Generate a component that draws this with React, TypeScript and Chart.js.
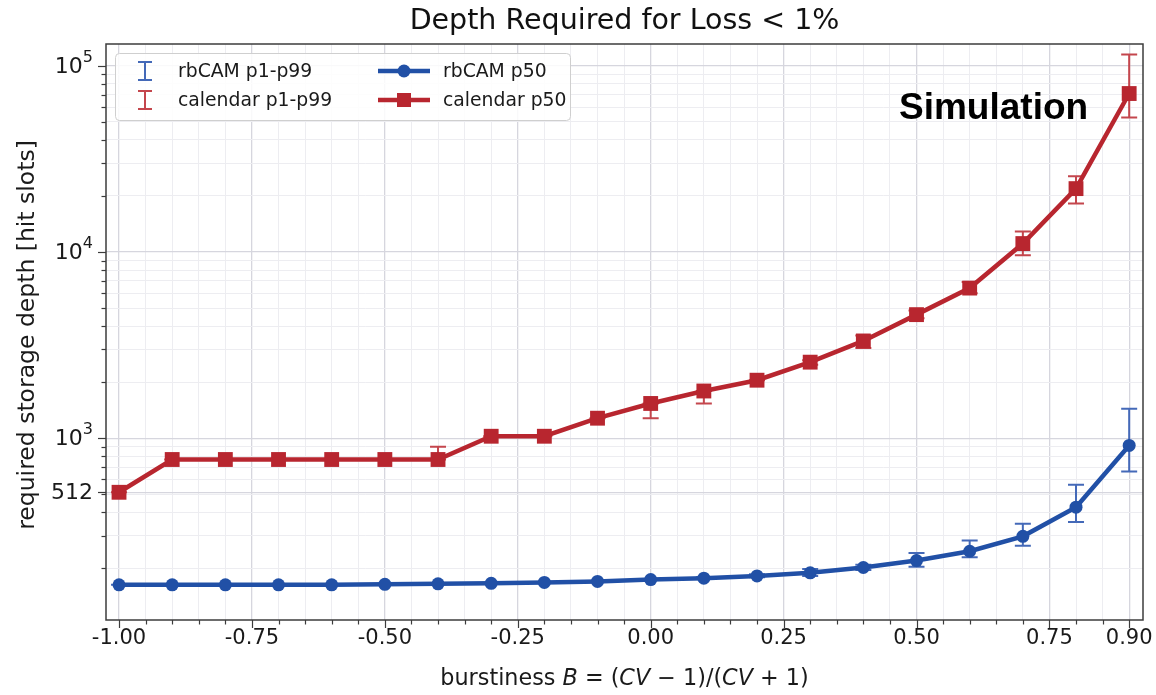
import React, { useEffect, useRef } from "react";
import { Chart, registerables } from "chart.js";

Chart.register(...registerables);

// ---------------- data ----------------
const burstiness = [-1.0, -0.9, -0.8, -0.7, -0.6, -0.5, -0.4, -0.3, -0.2, -0.1, 0.0, 0.1, 0.2, 0.3, 0.4, 0.5, 0.6, 0.7, 0.8, 0.9];

const rbcamP50 = [163, 163, 163, 163, 163, 164, 165, 166, 168, 170, 174, 177, 182, 189, 202, 220, 247, 297, 426, 914];
const rbcamP1 = [163, 163, 163, 163, 163, 164, 165, 166, 168, 170, 173, 176, 179, 182, 196, 204, 229, 264, 354, 662];
const rbcamP99 = [163, 163, 163, 163, 163, 164, 165, 166, 168, 170, 175, 179, 186, 198, 209, 242, 282, 347, 562, 1439];

const calendarP50 = [512, 768, 768, 768, 768, 768, 768, 1024, 1024, 1280, 1536, 1792, 2048, 2560, 3328, 4608, 6400, 11100, 21900, 71000];
const calendarP1 = [512, 768, 768, 768, 768, 768, 768, 1024, 1024, 1280, 1280, 1536, 2048, 2480, 3050, 4400, 6000, 9600, 18200, 52800];
const calendarP99 = [512, 768, 768, 768, 768, 768, 900, 1024, 1024, 1280, 1536, 1792, 2048, 2620, 3560, 4850, 6900, 12900, 25500, 115000];

const xMajorTicks = [-1.0, -0.75, -0.5, -0.25, 0.0, 0.25, 0.5, 0.75, 0.9];
const xTickLabels = ["-1.00", "-0.75", "-0.50", "-0.25", "0.00", "0.25", "0.50", "0.75", "0.90"];
const yMajorTicks = [512, 1000, 10000, 100000];
const yTickLabels = [["512", ""], ["10", "3"], ["10", "4"], ["10", "5"]];
const yMinorTicks = [200, 300, 400, 500, 600, 700, 800, 900, 2000, 3000, 4000, 5000, 6000, 7000, 8000, 9000, 20000, 30000, 40000, 50000, 60000, 70000, 80000, 90000];

const TITLE = "Depth Required for Loss < 1%";
const Y_LABEL = "required storage depth [hit slots]";
const ANNOTATION = "Simulation";

// ---------------- style ----------------
const BLUE = "#2150a6";
const BLUE_ERR = "#4469b8";
const RED = "#b8262f";
const RED_ERR = "#c4464d";
const FONT = "'DejaVu Sans'";
const MAJOR_GRID = "#d6d6de";
const MINOR_GRID = "#ededf1";
const AXIS = "#3c3c3c";

const W = 1156;
const H = 695;

function isMajorX(v: number) {
  return xMajorTicks.some((m) => Math.abs(m - v) < 1e-6);
}

const errorBarPlugin = {
  id: "errorBars",
  beforeDatasetsDraw(chart: any) {
    const { ctx, scales } = chart;
    const xs = scales.x;
    const ys = scales.y;
    const series = [
      { lo: rbcamP1, hi: rbcamP99, color: BLUE_ERR },
      { lo: calendarP1, hi: calendarP99, color: RED_ERR },
    ];
    ctx.save();
    for (const s of series) {
      ctx.strokeStyle = s.color;
      ctx.lineWidth = 2;
      for (let i = 0; i < burstiness.length; i++) {
        const x = xs.getPixelForValue(burstiness[i]);
        const y1 = ys.getPixelForValue(s.lo[i]);
        const y2 = ys.getPixelForValue(s.hi[i]);
        ctx.beginPath();
        ctx.moveTo(x, y1);
        ctx.lineTo(x, y2);
        ctx.moveTo(x - 8, y1);
        ctx.lineTo(x + 8, y1);
        ctx.moveTo(x - 8, y2);
        ctx.lineTo(x + 8, y2);
        ctx.stroke();
      }
    }
    ctx.restore();
  },
};

const framePlugin = {
  id: "frame",
  afterDatasetsDraw(chart: any) {
    const { ctx, chartArea: a } = chart;
    ctx.save();
    ctx.strokeStyle = AXIS;
    ctx.lineWidth = 1.5;
    ctx.strokeRect(a.left, a.top, a.right - a.left, a.bottom - a.top);
    ctx.restore();
  },
};

const decorPlugin = {
  id: "decor",
  afterDraw(chart: any) {
    const { ctx, chartArea: a, scales } = chart;
    const xs = scales.x;
    const ys = scales.y;
    ctx.save();
    ctx.strokeStyle = AXIS;
    ctx.lineWidth = 1.2;
    // x ticks
    for (const t of xs.ticks) {
      const x = Math.round(xs.getPixelForValue(t.value)) + 0.5;
      const len = isMajorX(t.value) ? 8 : 4.5;
      ctx.beginPath();
      ctx.moveTo(x, a.bottom);
      ctx.lineTo(x, a.bottom + len);
      ctx.stroke();
    }
    // y ticks
    for (const t of ys.ticks) {
      const y = Math.round(ys.getPixelForValue(t.value)) + 0.5;
      const len = yMajorTicks.includes(t.value) ? 8 : 4.5;
      ctx.beginPath();
      ctx.moveTo(a.left, y);
      ctx.lineTo(a.left - len, y);
      ctx.stroke();
    }
    // x tick labels
    ctx.fillStyle = "#1a1a1a";
    ctx.font = `21px ${FONT}`;
    ctx.textAlign = "center";
    ctx.textBaseline = "middle";
    xMajorTicks.forEach((v, i) => {
      ctx.fillText(xTickLabels[i], xs.getPixelForValue(v), a.bottom + 19);
    });
    // y tick labels (with superscripts)
    yMajorTicks.forEach((v, i) => {
      const y = ys.getPixelForValue(v);
      const [base, sup] = yTickLabels[i];
      ctx.font = `22px ${FONT}`;
      const bw = ctx.measureText(base).width;
      ctx.font = `16px ${FONT}`;
      const sw = sup ? ctx.measureText(sup).width : 0;
      const right = a.left - 13;
      ctx.textAlign = "left";
      ctx.textBaseline = "middle";
      ctx.font = `22px ${FONT}`;
      ctx.fillText(base, right - sw - bw, y + 1);
      if (sup) {
        ctx.font = `16px ${FONT}`;
        ctx.fillText(sup, right - sw, y - 8);
      }
    });
    // y axis label
    ctx.save();
    ctx.translate(28, (a.top + a.bottom) / 2 + 3);
    ctx.rotate(-Math.PI / 2);
    ctx.font = `23.5px ${FONT}`;
    ctx.textAlign = "center";
    ctx.textBaseline = "middle";
    ctx.fillText(Y_LABEL, 0, 0);
    ctx.restore();
    // x axis label with math italics
    const parts: [string, boolean][] = [
      ["burstiness ", false],
      ["B", true],
      [" = (", false],
      ["CV", true],
      [" \u2212 1)/(", false],
      ["CV", true],
      [" + 1)", false],
    ];
    const xlFont = 22.3;
    let total = 0;
    for (const [s, it] of parts) {
      ctx.font = `${it ? "italic " : ""}${xlFont}px ${FONT}`;
      total += ctx.measureText(s).width;
    }
    let cx = (a.left + a.right) / 2 - total / 2;
    ctx.textAlign = "left";
    ctx.textBaseline = "middle";
    for (const [s, it] of parts) {
      ctx.font = `${it ? "italic " : ""}${xlFont}px ${FONT}`;
      ctx.fillText(s, cx, 679);
      cx += ctx.measureText(s).width;
    }
    // title
    ctx.font = `28.5px ${FONT}`;
    ctx.textAlign = "center";
    ctx.textBaseline = "middle";
    ctx.fillStyle = "#111";
    ctx.fillText(TITLE, (a.left + a.right) / 2, 22);
    // annotation
    ctx.font = `bold 37px 'Liberation Sans'`;
    ctx.textAlign = "left";
    ctx.fillStyle = "#000";
    ctx.fillText(ANNOTATION, 899, 109);

    // legend
    const lx = 115.5, ly = 53.5, lw = 455, lh = 67;
    ctx.beginPath();
    (ctx as any).roundRect(lx, ly, lw, lh, 4);
    ctx.fillStyle = "rgba(255,255,255,0.85)";
    ctx.fill();
    ctx.strokeStyle = "#cfcfcf";
    ctx.lineWidth = 1;
    ctx.stroke();
    const rows = [71, 100];
    const ds = chart.data.datasets;
    ctx.font = `18.8px ${FONT}`;
    ctx.textBaseline = "middle";
    ctx.textAlign = "left";
    const errEntries = [
      { label: "rbCAM p1-p99", color: BLUE_ERR },
      { label: "calendar p1-p99", color: RED_ERR },
    ];
    errEntries.forEach((e, i) => {
      const y = rows[i];
      const x = 145;
      ctx.strokeStyle = e.color;
      ctx.lineWidth = 2;
      ctx.beginPath();
      ctx.moveTo(x, y - 9);
      ctx.lineTo(x, y + 9);
      ctx.moveTo(x - 7, y - 9);
      ctx.lineTo(x + 7, y - 9);
      ctx.moveTo(x - 7, y + 9);
      ctx.lineTo(x + 7, y + 9);
      ctx.stroke();
      ctx.fillStyle = "#1a1a1a";
      ctx.fillText(e.label, 178, y + 1);
    });
    ds.forEach((d: any, i: number) => {
      const y = rows[i];
      ctx.strokeStyle = d.borderColor;
      ctx.lineWidth = 4.5;
      ctx.beginPath();
      ctx.moveTo(378, y);
      ctx.lineTo(430, y);
      ctx.stroke();
      ctx.fillStyle = d.backgroundColor;
      if (d.pointStyle === "rect") {
        ctx.fillRect(404 - 7, y - 7, 14, 14);
      } else {
        ctx.beginPath();
        ctx.arc(404, y, 6.5, 0, Math.PI * 2);
        ctx.fill();
      }
      ctx.fillStyle = "#1a1a1a";
      ctx.fillText(d.label, 443, y + 1);
    });
    ctx.restore();
  },
};

export default function App() {
  const ref = useRef<HTMLCanvasElement | null>(null);

  useEffect(() => {
    document.body.style.margin = "0";
    const canvas = ref.current;
    if (!canvas) return;
    const chart = new Chart(canvas, {
      type: "line",
      data: {
        datasets: [
          {
            label: "rbCAM p50",
            data: burstiness.map((x, i) => ({ x, y: rbcamP50[i] })),
            borderColor: BLUE,
            backgroundColor: BLUE,
            borderWidth: 4.5,
            pointStyle: "circle",
            pointRadius: 6.5,
            pointBorderWidth: 0,
            pointBackgroundColor: BLUE,
            tension: 0,
          },
          {
            label: "calendar p50",
            data: burstiness.map((x, i) => ({ x, y: calendarP50[i] })),
            borderColor: RED,
            backgroundColor: RED,
            borderWidth: 4.5,
            pointStyle: "rect",
            pointRadius: 10.5,
            pointBorderWidth: 0,
            pointBackgroundColor: RED,
            tension: 0,
          },
        ],
      },
      options: {
        responsive: false,
        animation: false,
        devicePixelRatio: 1,
        events: [],
        layout: { padding: { top: 44, right: 13, left: 0, bottom: 0 } },
        plugins: {
          legend: { display: false },
          title: { display: false },
          tooltip: { enabled: false },
        },
        scales: {
          x: {
            type: "linear",
            min: -1.0245,
            max: 0.926,
            afterBuildTicks: (scale: any) => {
              const ticks = [];
              for (let i = 0; i <= 38; i++) {
                const v = Math.round((-1 + 0.05 * i) * 100) / 100;
                ticks.push({ value: v });
              }
              scale.ticks = ticks;
            },
            afterFit: (scale: any) => {
              scale.height = 75;
            },
            ticks: { display: false, autoSkip: false },
            border: { display: false },
            grid: {
              drawTicks: false,
              color: (c: any) => (c.tick && isMajorX(c.tick.value) ? MAJOR_GRID : MINOR_GRID),
              lineWidth: (c: any) => (c.tick && isMajorX(c.tick.value) ? 1.3 : 1),
            },
          },
          y: {
            type: "logarithmic",
            min: 105.5,
            max: 131000,
            afterBuildTicks: (scale: any) => {
              const all = [...yMinorTicks, ...yMajorTicks].sort((p, q) => p - q);
              scale.ticks = all.map((v) => ({ value: v }));
            },
            afterFit: (scale: any) => {
              scale.width = 106;
            },
            ticks: { display: false, autoSkip: false },
            border: { display: false },
            grid: {
              drawTicks: false,
              color: (c: any) => (c.tick && yMajorTicks.includes(c.tick.value) ? MAJOR_GRID : MINOR_GRID),
              lineWidth: (c: any) => (c.tick && yMajorTicks.includes(c.tick.value) ? 1.3 : 1),
            },
          },
        },
      },
      plugins: [errorBarPlugin, framePlugin, decorPlugin],
    });
    return () => chart.destroy();
  }, []);

  return (
    <div style={{ width: W, height: H, background: "#fff" }}>
      <canvas ref={ref} width={W} height={H} style={{ display: "block" }} />
    </div>
  );
}
